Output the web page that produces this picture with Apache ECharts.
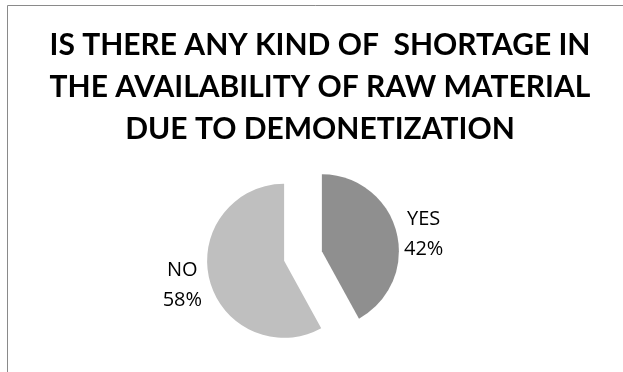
<!DOCTYPE html>
<html>
<head>
<meta charset="utf-8">
<style>
  html, body { margin: 0; padding: 0; background: #ffffff; }
  #chart { width: 623px; height: 372px; }
</style>
<script src="https://cdn.jsdelivr.net/npm/echarts@6/dist/echarts.min.js"></script>
</head>
<body>
<div id="chart"></div>
<script>
// Survey answers and their shares (percent)
const categories = ['YES', 'NO'];
const shares = [42, 58];
const sliceColors = ['#8f8f8f', '#bfbfbf'];
const titleLines = [
  'IS THERE ANY KIND OF  SHORTAGE IN',
  'THE AVAILABILITY OF RAW MATERIAL',
  'DUE TO DEMONETIZATION'
];

const chart = echarts.init(document.getElementById('chart'), null, { renderer: 'canvas' });

const pieData = categories.map((name, i) => ({
  name: name,
  value: shares[i],
  selected: true,
  itemStyle: { color: sliceColors[i] }
}));

chart.setOption({
  animation: false,
  backgroundColor: '#ffffff',
  title: {
    text: titleLines.join('\n'),
    left: 315,
    textAlign: 'center',
    top: 19,
    textStyle: {
      fontFamily: 'Lato',
      fontSize: 30,
      fontWeight: 'bold',
      lineHeight: 42,
      color: '#000000'
    }
  },
  graphic: [{
    type: 'polyline',
    shape: { points: [[7.5, 372], [7.5, 5.5], [623, 5.5]] },
    style: { stroke: '#8a8a8a', lineWidth: 1, fill: null },
    silent: true
  }],
  series: [{
    type: 'pie',
    center: [303, 256],
    radius: 77,
    startAngle: 90,
    clockwise: true,
    selectedMode: 'multiple',
    selectedOffset: 19.5,
    emphasis: { disabled: true },
    select: { disabled: false },
    label: {
      show: true,
      position: 'outside',
      formatter: p => p.name + '\n' + p.value + '%',
      fontFamily: 'Open Sans',
      fontSize: 20,
      lineHeight: 30,
      color: '#000000'
    },
    labelLine: { show: false, length: 0, length2: 2.5 },
    labelLayout: function (params) {
      const onRight = params.align === 'left';
      return {
        align: 'center',
        dx: onRight ? params.labelRect.width / 2 : -params.labelRect.width / 2,
        dy: onRight ? 2 : 5
      };
    },
    data: pieData
  }]
});
</script>
</body>
</html>
